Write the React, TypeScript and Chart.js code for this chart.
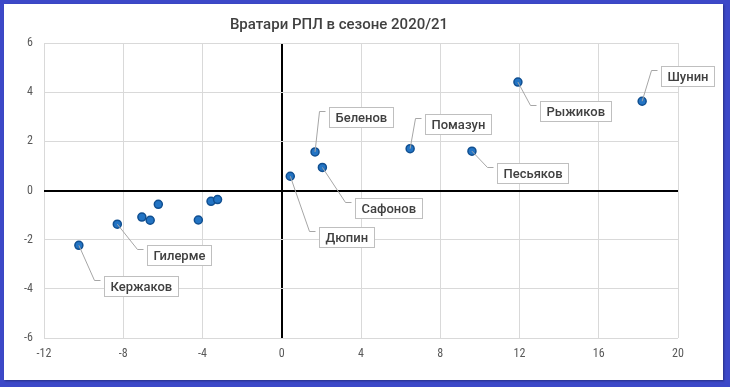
import React, { useEffect, useRef } from "react";
import { Chart, registerables } from "chart.js";

Chart.register(...registerables);

const TITLE = "Вратари РПЛ в сезоне 2020/21";
const playerNames = ["Кержаков", "Гилерме", "", "", "", "", "", "", "Дюпин", "Беленов", "Сафонов", "Помазун", "Песьяков", "Рыжиков", "Шунин"];
const xValues = [-10.24, -8.3, -7.06, -6.64, -6.23, -4.21, -3.57, -3.24, 0.43, 1.68, 2.05, 6.48, 9.6, 11.92, 18.19];
const yValues = [-2.23, -1.37, -1.08, -1.21, -0.56, -1.2, -0.44, -0.37, 0.58, 1.57, 0.94, 1.7, 1.6, 4.41, 3.63];
const xTicks = [-12, -8, -4, 0, 4, 8, 12, 16, 20];
const yTicks = [-6, -4, -2, 0, 2, 4, 6];

// label box placement (left, top) relative to its point, in pixels
const labelOffsets: Record<string, [number, number]> = {
  "Беленов": [13.5, -45],
  "Помазун": [15, -34.7],
  "Сафонов": [32.7, 30.7],
  "Дюпин": [28.7, 50.7],
  "Гилерме": [29.7, 20.7],
  "Кержаков": [25, 30.4],
  "Рыжиков": [22.3, 18.7],
  "Шунин": [19, -35.6],
  "Песьяков": [25.3, 11.7],
};

const LABEL_FONT = "500 13px Roboto, 'DejaVu Sans', sans-serif";
const TICK_FONT_FAMILY = "'Liberation Sans Narrow', 'Roboto Condensed', Roboto, sans-serif";

const labelPlugin = {
  id: "pointLabels",
  afterDatasetsDraw(chart: any) {
    const ctx = chart.ctx;
    const meta = chart.getDatasetMeta(0);
    ctx.save();
    ctx.font = LABEL_FONT;
    meta.data.forEach((el: any, i: number) => {
      const name = playerNames[i];
      if (!name) return;
      const off = labelOffsets[name];
      if (!off) return;
      const px = el.x;
      const py = el.y;
      const tw = ctx.measureText(name).width;
      const w = Math.round(tw + 12);
      const h = 20;
      const left = Math.round(px + off[0]) + 0.5;
      const top = Math.round(py + off[1]) + 0.5;
      const ky = top + 4;
      ctx.strokeStyle = "#a6a6a6";
      ctx.lineWidth = 1;
      ctx.beginPath();
      ctx.moveTo(px, py);
      ctx.lineTo(left - 10, ky);
      ctx.lineTo(left - 4, ky);
      ctx.stroke();
      ctx.fillStyle = "#ffffff";
      ctx.fillRect(left, top, w, h);
      ctx.strokeStyle = "#bfbfbf";
      ctx.strokeRect(left, top, w, h);
      ctx.fillStyle = "#404040";
      ctx.textAlign = "left";
      ctx.textBaseline = "middle";
      ctx.fillText(name, left + 6, top + h / 2 + 1);
    });
    ctx.restore();
  },
};

export default function App() {
  const ref = useRef<HTMLCanvasElement | null>(null);
  useEffect(() => {
    if (!ref.current) return;
    const points = xValues.map((x, i) => ({ x, y: yValues[i] }));
    const chart = new Chart(ref.current, {
      type: "scatter",
      data: {
        datasets: [
          {
            data: points,
            pointRadius: 4,
            pointBackgroundColor: "#2374c4",
            pointBorderColor: "#114f90",
            pointBorderWidth: 1.5,
          },
        ],
      },
      options: {
        animation: false,
        responsive: false,
        maintainAspectRatio: false,
        layout: { padding: { left: 0, right: 52, top: 0, bottom: 0 } },
        plugins: {
          legend: { display: false },
          tooltip: { enabled: false },
          title: {
            display: true,
            text: TITLE,
            color: "#404040",
            font: { family: "Roboto, 'DejaVu Sans', sans-serif", size: 15, weight: "500" as any, lineHeight: 1.2 },
            padding: { top: 16, bottom: 9 },
          },
        },
        scales: {
          x: {
            type: "linear",
            min: -12,
            max: 20,
            afterBuildTicks: (s: any) => {
              s.ticks = xTicks.map((v) => ({ value: v }));
            },
            afterFit: (s: any) => {
              s.height = 49;
            },
            ticks: { color: "#595959", font: { family: TICK_FONT_FAMILY, size: 12 }, padding: 9, maxRotation: 0 },
            grid: {
              drawTicks: false,
              color: (c: any) => (c.tick && c.tick.value === 0 ? "#000000" : "#d9d9d9"),
              lineWidth: (c: any) => (c.tick && c.tick.value === 0 ? 2 : 1),
            },
            border: { display: false },
          },
          y: {
            type: "linear",
            min: -6,
            max: 6,
            afterBuildTicks: (s: any) => {
              s.ticks = yTicks.map((v) => ({ value: v }));
            },
            afterFit: (s: any) => {
              s.width = 44;
            },
            ticks: { color: "#595959", font: { family: TICK_FONT_FAMILY, size: 12 }, padding: 11 },
            grid: {
              drawTicks: false,
              color: (c: any) => (c.tick && c.tick.value === 0 ? "#000000" : "#d9d9d9"),
              lineWidth: (c: any) => (c.tick && c.tick.value === 0 ? 2 : 1),
            },
            border: { display: false },
          },
        },
      },
      plugins: [labelPlugin],
    });
    return () => chart.destroy();
  }, []);

  return (
    <div style={{ position: "fixed", left: 0, top: 0, width: 730, height: 387, background: "#3c48c8" }}>
      <div style={{ position: "absolute", left: 4, top: 4, width: 719, height: 376, background: "#ffffff", boxShadow: "1px 1px 2px rgba(0,0,0,0.35)" }} />
      <canvas ref={ref} width={730} height={387} style={{ position: "absolute", left: 0, top: 0, width: 730, height: 387 }} />
    </div>
  );
}
